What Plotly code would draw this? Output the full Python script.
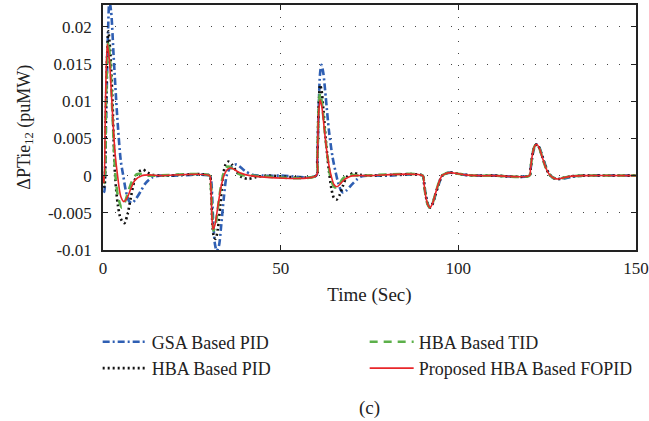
import plotly.graph_objects as go

# ---- data ----
gsa_t = [0, 0.4, 0.9, 1.4, 1.8, 2.3, 3, 4, 5, 5.7, 6.5, 7.3, 8.1, 9, 10.5, 12, 14, 16, 20,
         30, 30.4, 31, 31.5, 32, 32.6, 33.3, 34, 34.8, 35.7, 36.6, 37.6, 38.8, 40, 42.3, 45, 50,
         60, 60.3, 60.7, 61.1, 61.5, 62, 62.7, 63.6, 64.6, 65.5, 66.2, 67, 67.6, 68.5, 70, 71.5, 72.8, 75, 80,
         90, 90.3, 90.8, 91.4, 92, 92.7, 93.5, 94.4, 95.4, 96.5, 97.8, 99.5, 102, 106, 110,
         120, 120.3, 120.9, 121.5, 122.1, 122.8, 123.6, 124.5, 125.4, 126.4, 127.3, 128.2, 129.5, 131.5, 135, 150]
gsa_v = [0, -0.0022, 0.008, 0.019, 0.0235, 0.022, 0.016, 0.008, 0.002, 0, -0.0022, -0.0034, -0.0037, -0.0033, -0.0022, -0.001, -0.0002, 0, 0,
         0, -0.0005, -0.006, -0.0092, -0.0101, -0.0095, -0.0065, -0.003, 0, 0.001, 0.0014, 0.0015, 0.0011, 0.0006, 0.0001, 0, 0,
         0, 0.002, 0.009, 0.0138, 0.0149, 0.0138, 0.0105, 0.006, 0.0025, 0.0004, -0.001, -0.002, -0.0023, -0.002, -0.0012, -0.0005, -0.0001, 0, 0,
         0, -0.0008, -0.0025, -0.0038, -0.0043, -0.0039, -0.0027, -0.0013, -0.0001, 0.0003, 0.0004, 0.0003, 0.0001, 0, 0,
         0, 0.0008, 0.0028, 0.0039, 0.0042, 0.0038, 0.0027, 0.0014, 0.0004, -0.0002, -0.0004, -0.00045, -0.0004, -0.0002, 0, 0]

hpid_t = [0, 0.4, 0.9, 1.5, 2, 2.6, 3.4, 4.2, 5, 6, 6.9, 7.8, 8.8, 10, 11.3, 12.6, 14, 17,
          30, 30.3, 30.8, 31.2, 31.7, 32.3, 33, 33.8, 34.5, 35.3, 36.3, 37.5, 39, 40.9, 43, 46,
          60, 60.3, 60.7, 61.1, 61.5, 62, 62.7, 63.5, 64.3, 65, 65.8, 66.6, 67.5, 68.6, 70.5, 72.5, 75,
          90, 90.3, 90.8, 91.4, 92, 92.7, 93.5, 94.4, 95.4, 96.5, 97.8, 99.5, 102, 106, 110,
          120, 120.3, 120.9, 121.5, 122.1, 122.8, 123.6, 124.5, 125.4, 126.4, 127.3, 128.2, 129.5, 131.5, 135, 150]
hpid_v = [0, -0.0015, 0.011, 0.0194, 0.017, 0.011, 0, -0.004, -0.0058, -0.0064, -0.0052, -0.003, -0.0008, 0.0005, 0.0008, 0.0004, 0.0001, 0,
          0, -0.001, -0.0065, -0.0082, -0.0085, -0.0072, -0.004, 0, 0.0015, 0.0019, 0.0015, 0.0006, -0.0002, -0.00045, -0.0002, 0,
          0, 0.002, 0.0095, 0.0122, 0.0115, 0.009, 0.0048, 0.001, -0.0018, -0.003, -0.0032, -0.0026, -0.0014, -0.0002, 0.00035, 0.0001, 0,
          0, -0.0008, -0.0026, -0.0039, -0.0043, -0.0038, -0.0026, -0.0012, 0, 0.0003, 0.0004, 0.0003, 0.0001, 0, 0,
          0, 0.0008, 0.0029, 0.004, 0.0042, 0.0037, 0.0026, 0.0013, 0.0003, -0.0002, -0.0004, -0.00045, -0.0003, -0.0001, 0, 0]

tid_t = [0, 0.4, 0.9, 1.5, 2, 2.6, 3.5, 4.3, 5.3, 6.2, 7.2, 8.3, 9.5, 11, 13,
         30, 30.3, 30.8, 31.1, 31.6, 32.3, 33, 34, 35, 36, 37.3, 39, 42,
         60, 60.3, 60.7, 61.1, 61.6, 62.3, 63.2, 64.2, 65.3, 66.3, 67.5, 69, 72,
         90, 90.3, 90.8, 91.4, 92, 92.7, 93.5, 94.4, 95.4, 96.5, 97.8, 99.5, 102, 106, 110,
         120, 120.3, 120.9, 121.5, 122.1, 122.8, 123.6, 124.5, 125.4, 126.4, 127.3, 128.2, 129.5, 131.5, 135, 150]
tid_v = [0, -0.001, 0.011, 0.018, 0.0155, 0.009, 0, -0.003, -0.0043, -0.0035, -0.002, -0.0006, 0.0002, 0.0002, 0,
         0, -0.001, -0.006, -0.0074, -0.0068, -0.0045, -0.002, 0.0004, 0.0012, 0.0011, 0.0005, 0.0001, 0,
         0, 0.002, 0.009, 0.0111, 0.0098, 0.0065, 0.0025, -0.0006, -0.0016, -0.0013, -0.0004, 0.0001, 0,
         0, -0.0009, -0.0027, -0.0039, -0.0043, -0.0038, -0.0025, -0.0011, 0, 0.0003, 0.0004, 0.0003, 0.0001, 0, 0,
         0, 0.0009, 0.003, 0.004, 0.0042, 0.0037, 0.0025, 0.0012, 0.0003, -0.0002, -0.0004, -0.00045, -0.0003, -0.0001, 0, 0]

fopid_t = [0, 0.3, 0.7, 1.2, 1.8, 2.6, 3.4, 4.1, 5, 5.9, 6.8, 7.8, 9, 10.9, 13, 16,
           30, 30.3, 30.7, 31, 31.5, 32.3, 33.3, 34.3, 35.2, 36, 37, 38.5, 41.4,
           60, 60.3, 60.7, 61.1, 61.6, 62.3, 63.2, 64.2, 65, 65.8, 66.8, 68, 69.5, 71, 75,
           90, 90.3, 90.8, 91.4, 92, 92.7, 93.5, 94.4, 95.4, 96.5, 97.8, 99.5, 102, 106, 110,
           120, 120.3, 120.9, 121.5, 122.1, 122.8, 123.6, 124.5, 125.4, 126.4, 127.3, 128.2, 129.5, 131.5, 135, 150]
fopid_v = [0, -0.001, 0.01, 0.0177, 0.0155, 0.009, 0.003, 0, -0.0028, -0.0035, -0.003, -0.0018, -0.0006, 0, 0.0001, 0,
           0, -0.001, -0.006, -0.0072, -0.0066, -0.0042, -0.0013, 0.0003, 0.0009, 0.00103, 0.0008, 0.0004, 0,
           0, 0.002, 0.0085, 0.0102, 0.0092, 0.0062, 0.0025, 0, -0.0012, -0.0015, -0.0011, -0.0005, -0.0001, 0, 0,
           0, -0.0009, -0.0027, -0.0039, -0.0043, -0.0038, -0.0025, -0.0011, 0, 0.0003, 0.0004, 0.0003, 0.0001, 0, 0,
           0, 0.0009, 0.003, 0.004, 0.0042, 0.0037, 0.0025, 0.0012, 0.0003, -0.0002, -0.0004, -0.00045, -0.0003, -0.0001, 0, 0]

names = ["GSA Based PID", "HBA Based PID", "HBA Based TID", "Proposed HBA Based FOPID"]
y_ticks = [-0.01, -0.005, 0, 0.005, 0.01, 0.015, 0.02]
y_tick_text = ["-0.01", "-0.005", "0", "0.005", "0.01", "0.015", "0.02"]
x_ticks = [0, 50, 100, 150]
y_title = "ΔPTie<sub>12</sub> (puMW)"
x_title = "Time (Sec)"
caption = "(c)"

FONT = "Liberation Serif, Times New Roman, serif"
TXT = "#222222"

fig = go.Figure()
fig.add_trace(go.Scatter(x=gsa_t, y=gsa_v, name=names[0], mode="lines", legendrank=1,
                         line=dict(color="#2f5fb3", width=2.6, dash="7px,3px,2px,3px", shape="spline", smoothing=0.8)))
fig.add_trace(go.Scatter(x=hpid_t, y=hpid_v, name=names[1], mode="lines", legendrank=3,
                         line=dict(color="#111111", width=2.6, dash="2px,3px", shape="spline", smoothing=0.8)))
fig.add_trace(go.Scatter(x=tid_t, y=tid_v, name=names[2], mode="lines", legendrank=2,
                         line=dict(color="#5cb04a", width=2.6, dash="8px,6px", shape="spline", smoothing=0.8)))
fig.add_trace(go.Scatter(x=fopid_t, y=fopid_v, name=names[3], mode="lines", legendrank=4,
                         line=dict(color="#e8262a", width=1.6, shape="spline", smoothing=0.8)))

axis_common = dict(showline=True, linecolor=TXT, linewidth=1.5, mirror="ticks",
                   ticks="inside", ticklen=5, tickcolor=TXT,
                   showgrid=True, gridcolor="#444", gridwidth=1, griddash="1px,11px",
                   zeroline=False, tickfont=dict(family=FONT, size=17, color=TXT))

fig.update_xaxes(range=[0, 150], tickvals=x_ticks, ticklabelstandoff=2,
                 title=dict(text=x_title, standoff=11,
                            font=dict(family=FONT, size=19, color=TXT)), **axis_common)
fig.update_yaxes(range=[-0.01, 0.02295], tickvals=y_ticks, ticktext=y_tick_text, ticklabelstandoff=6,
                 **axis_common)

fig.update_layout(
    width=649, height=421,
    margin=dict(l=103, r=13, t=5, b=171, autoexpand=False),
    paper_bgcolor="white", plot_bgcolor="white",
    font=dict(family=FONT, color=TXT),
    legend=dict(orientation="h", x=-0.01, y=-0.30, xanchor="left", yanchor="top",
                itemwidth=44, entrywidth=208, font=dict(family=FONT, size=18, color=TXT),
                bgcolor="rgba(0,0,0,0)", tracegroupgap=0),
    annotations=[
        dict(text=caption, x=0.5, y=-0.643, xref="paper", yref="paper", showarrow=False,
             xanchor="center", yanchor="middle", font=dict(family=FONT, size=19, color=TXT)),
        dict(text=y_title, x=-0.146, y=0.5, xref="paper", yref="paper", showarrow=False,
             textangle=-90, xanchor="center", yanchor="middle",
             font=dict(family=FONT, size=18, color=TXT)),
    ],
)

fig.write_html("out.html")
